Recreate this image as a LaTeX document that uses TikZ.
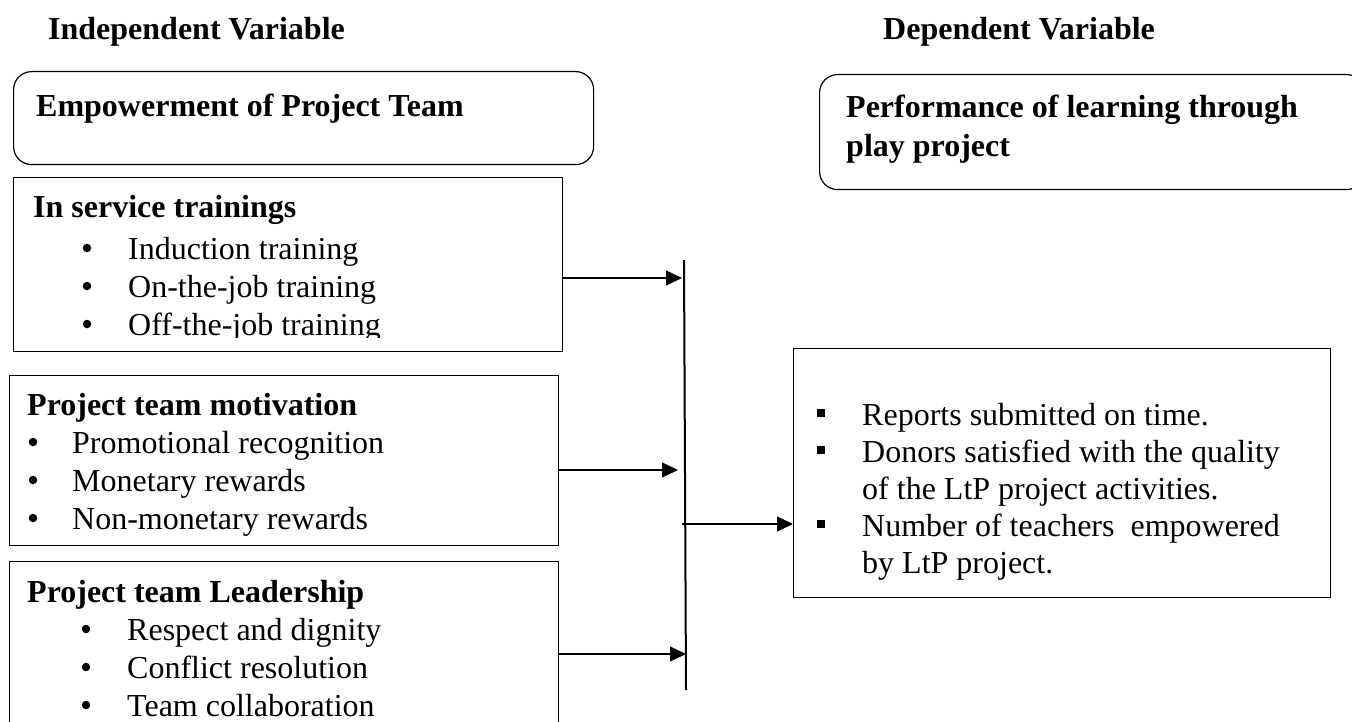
\documentclass[tikz,border=0pt]{standalone}
\usepackage{fontspec}
\setmainfont{Liberation Serif}
\usetikzlibrary{arrows.meta}
\begin{document}
\begin{tikzpicture}[x=1pt,y=-1pt,
  box/.style={draw, line width=1.2pt, rectangle, inner sep=0pt, anchor=north west},
  rbox/.style={box, rounded corners=18pt},
  txt/.style={anchor=base west, inner sep=0pt, font=\fontsize{32}{37}\selectfont},
  hd/.style={txt, font=\fontsize{32}{37}\selectfont\bfseries},
  dot/.style={circle, fill=black, minimum size=8.5pt, inner sep=0pt},
  sq/.style={fill=black, minimum size=7.5pt, inner sep=0pt},
  arr/.style={line width=1.2pt, -{Triangle[length=16pt,width=15pt]}},
]
\useasboundingbox (0,0) rectangle (1352,722);

% column headings
\node[hd] (ivar) at (48,40) {Independent Variable};
\node[hd] (dvar) at (883,40) {Dependent Variable};

% construct boxes
\node[rbox, minimum width=580pt, minimum height=93pt] (emp) at (13,71) {};
\node[hd] (empT) at (36,117) {Empowerment of Project Team};

\node[rbox, minimum width=545pt, minimum height=115pt] (perf) at (819,74) {};
\node[hd] (perfA) at (846,118) {Performance of learning through};
\node[hd] (perfB) at (846,157) {play project};

% in service trainings
\node[box, minimum width=549pt, minimum height=174pt] (train) at (13,177) {};
\node[hd] (trainT) at (33,218) {In service trainings};
\begin{scope}
  \clip (13,177) rectangle (562,337);
  \node[dot] at (87,248) {};
  \node[txt] at (128,259) {Induction training};
  \node[dot] at (87,286) {};
  \node[txt] at (128,297) {On-the-job training};
  \node[dot] at (87,324) {};
  \node[txt] at (128,335) {Off-the-job training};
\end{scope}

% motivation
\node[box, minimum width=549pt, minimum height=170pt] (motiv) at (9,375) {};
\node[hd] (motivT) at (27,415) {Project team motivation};
\begin{scope}
  \clip (9,375) rectangle (558,535);
  \node[dot] at (33,442) {};
  \node[txt] at (72,453) {Promotional recognition};
  \node[dot] at (33,480) {};
  \node[txt] at (72,491) {Monetary rewards};
  \node[dot] at (33,518) {};
  \node[txt] at (72,529) {Non-monetary rewards};
\end{scope}

% leadership
\node[box, minimum width=549pt, minimum height=180pt] (lead) at (9,561) {};
\node[hd] (leadT) at (27,602) {Project team Leadership};
\node[dot] at (86,629) {};
\node[txt] at (127,640) {Respect and dignity};
\node[dot] at (86,667) {};
\node[txt] at (127,678) {Conflict resolution};
\node[dot] at (86,705) {};
\node[txt] at (127,716) {Team collaboration};

% performance indicators
\node[box, minimum width=537pt, minimum height=249pt] (ind) at (793,348) {};
\node[sq] at (821,413) {};
\node[txt] at (862,425) {Reports submitted on time.};
\node[sq] at (821,450) {};
\node[txt] at (862,462) {Donors satisfied with the quality};
\node[txt] at (862,499) {of the LtP project activities.};
\node[sq] at (821,524) {};
\node[txt] at (862,536) {Number of teachers\ \ empowered};
\node[txt] at (862,573) {by LtP project.};

% joining bar and connectors
\coordinate (bartop) at (684,260);
\coordinate (barbot) at (686,690);
\draw[line width=2pt] (bartop) -- (barbot);
\coordinate (t1) at (682,278);
\coordinate (t2) at (678,470);
\coordinate (t3) at (686,654);
\coordinate (o1) at (682,524);
\draw[arr] (train.east |- t1) -- (t1);
\draw[arr] (motiv.east |- t2) -- (t2);
\draw[arr] (lead.east |- t3) -- (t3);
\draw[arr] (o1) -- (ind.west |- o1);
\end{tikzpicture}
\end{document}
